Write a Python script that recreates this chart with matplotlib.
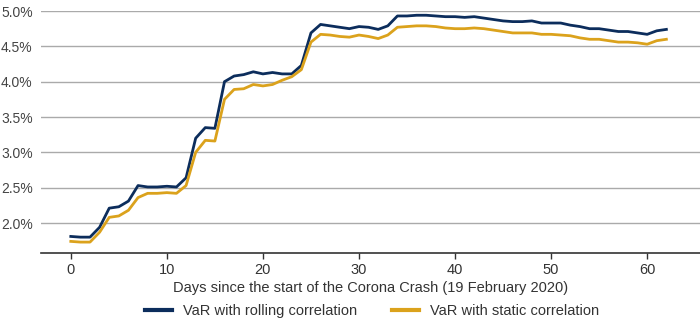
import matplotlib
matplotlib.use("Agg")
import matplotlib.pyplot as plt
from matplotlib.ticker import FuncFormatter, MultipleLocator

plt.rcParams['font.family'] = ['Liberation Sans', 'DejaVu Sans']

days = list(range(63))
rolling = [1.81, 1.80, 1.80, 1.94, 2.21, 2.23, 2.31, 2.53, 2.51, 2.51, 2.52, 2.51, 2.64,
           3.20, 3.35, 3.34, 4.00, 4.08, 4.10, 4.14, 4.11, 4.13, 4.11, 4.11, 4.23,
           4.69, 4.81, 4.79, 4.77, 4.75, 4.78, 4.77, 4.74, 4.79, 4.93, 4.93, 4.94,
           4.94, 4.93, 4.92, 4.92, 4.91, 4.92, 4.90, 4.88, 4.86, 4.85, 4.85, 4.86,
           4.83, 4.83, 4.83, 4.80, 4.78, 4.75, 4.75, 4.73, 4.71, 4.71, 4.69, 4.67,
           4.72, 4.74]
static = [1.74, 1.73, 1.73, 1.87, 2.08, 2.10, 2.18, 2.36, 2.42, 2.42, 2.43, 2.42, 2.53,
          3.00, 3.17, 3.16, 3.75, 3.89, 3.90, 3.96, 3.94, 3.96, 4.02, 4.07, 4.17,
          4.56, 4.67, 4.66, 4.64, 4.63, 4.66, 4.64, 4.61, 4.66, 4.77, 4.78, 4.79,
          4.79, 4.78, 4.76, 4.75, 4.75, 4.76, 4.75, 4.73, 4.71, 4.69, 4.69, 4.69,
          4.67, 4.67, 4.66, 4.65, 4.62, 4.60, 4.60, 4.58, 4.56, 4.56, 4.55, 4.53,
          4.58, 4.60]
labels = ["VaR with rolling correlation", "VaR with static correlation"]
colors = ["#0c2d5c", "#dba21c"]

fig = plt.figure(figsize=(7.0, 3.24), dpi=100)
ax = fig.add_axes([0.0586, 0.219, 0.9414, 0.747])

ax.plot(days, rolling, color=colors[0], lw=2.0, label=labels[0])
ax.plot(days, static, color=colors[1], lw=2.0, label=labels[1])

ax.set_xlim(-3.1, 65.5)
ax.set_ylim(1.575, 5.0)
ax.set_yticks([2.0, 2.5, 3.0, 3.5, 4.0, 4.5, 5.0])
ax.yaxis.set_major_formatter(FuncFormatter(lambda v, p: f"{v:.1f}%"))
ax.xaxis.set_major_locator(MultipleLocator(10))

ax.grid(axis='y', color='#aaaaaa', lw=1.0)
ax.set_axisbelow(True)
for s in ['top', 'right', 'left']:
    ax.spines[s].set_visible(False)
ax.spines['bottom'].set_color('#333333')
ax.spines['bottom'].set_linewidth(1.2)
ax.tick_params(axis='y', length=0, pad=6, labelsize=10, labelcolor='#444444')
ax.tick_params(axis='x', length=4, width=1, color='#333333', pad=3, labelsize=10.5, labelcolor='#333333')

ax.set_xlabel("Days since the start of the Corona Crash (19 February 2020)", fontsize=10.5,
              color='#333333', labelpad=3)
leg = fig.legend(loc='center', bbox_to_anchor=(0.532, 0.04), ncol=2, frameon=False,
                 fontsize=10.5, handlelength=1.85, columnspacing=2.4, handletextpad=0.75,
                 labelcolor='#333333', borderaxespad=0, borderpad=0)
for line in leg.get_lines():
    line.set_linewidth(3)

fig.savefig("out.png", dpi=100)
